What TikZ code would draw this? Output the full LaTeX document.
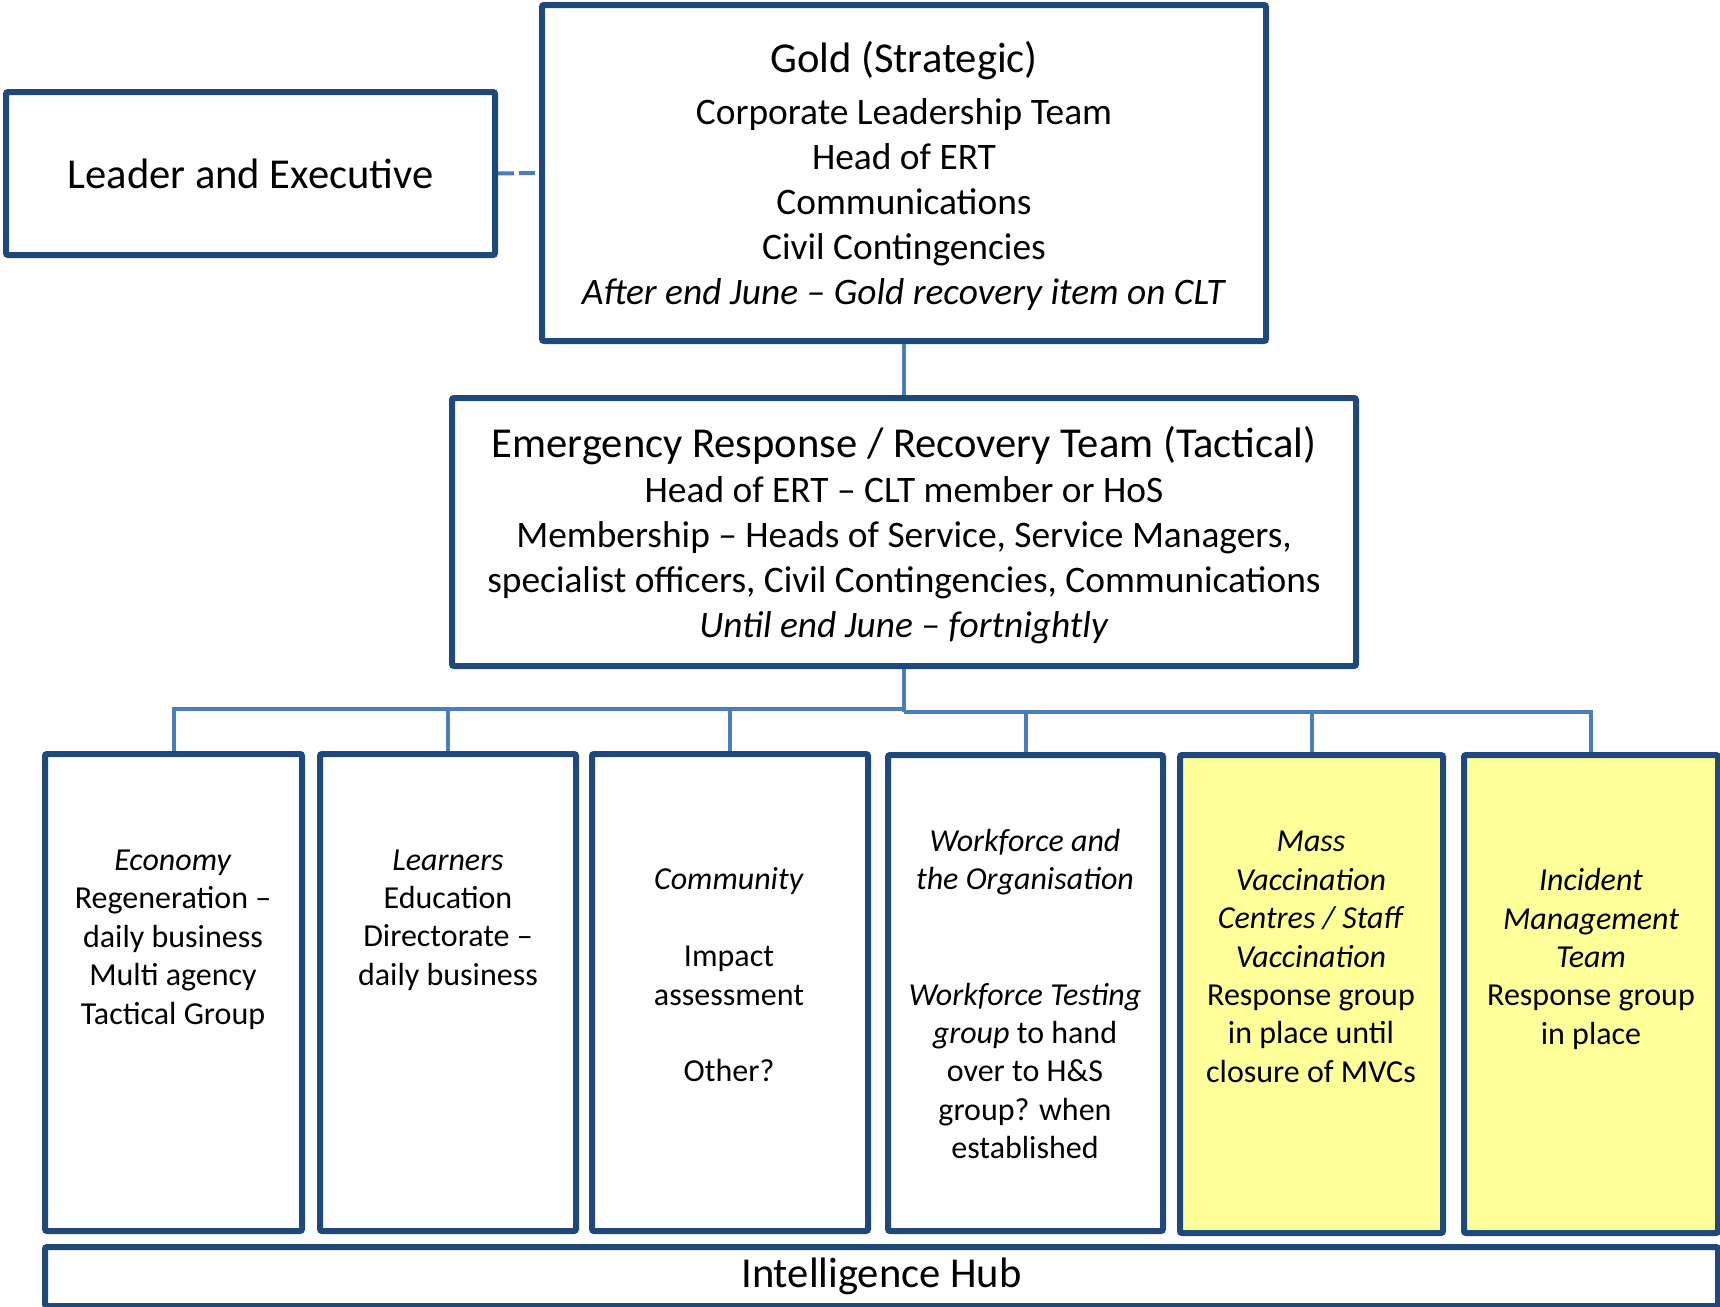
\documentclass[tikz,border=0pt]{standalone}
\usepackage{fontspec}
\setmainfont{Carlito}
\definecolor{boxblue}{HTML}{1F497D}
\definecolor{linkblue}{HTML}{4A7EBB}
\definecolor{paleyellow}{HTML}{FFFF99}
\tikzset{
  frame/.style={draw=boxblue, line width=3pt, rounded corners=1pt, inner sep=0pt, fill=white, align=center},
  yellowframe/.style={frame, fill=paleyellow},
  link/.style={draw=linkblue, line width=2pt},
  btext/.style={align=center, inner sep=0pt, font=\fontsize{16}{19.2}\selectfont},
}
\begin{document}
\begin{tikzpicture}[x=0.5pt,y=-0.5pt]
\useasboundingbox (0,0) rectangle (1720,1307);

% top boxes
\node[frame, minimum width=244.5pt, minimum height=81.5pt, font=\fontsize{21.3}{25}\selectfont] (leader) at (250.5,173.5) {Leader and Executive};

\node[frame, minimum width=362pt, minimum height=168pt] (gold) at (904,173) {};
\node[align=center, inner sep=0pt, font=\fontsize{18.7}{22.5}\selectfont] (goldtext) at (904,176)
  {{\fontsize{21.3}{22.5}\selectfont Gold (Strategic)}\\[3.7pt]
   Corporate Leadership Team\\
   Head of ERT\\
   Communications\\
   Civil Contingencies\\
   \textit{After end June -- Gold recovery item on CLT}};

\node[frame, minimum width=452pt, minimum height=134pt] (ert) at (904,532) {};
\node[align=center, inner sep=0pt, font=\fontsize{18.7}{22.5}\selectfont] (erttext) at (904,535)
  {{\fontsize{21.3}{22.5}\selectfont Emergency Response / Recovery Team (Tactical)}\\[0pt]
   Head of ERT -- CLT member or HoS\\
   Membership -- Heads of Service, Service Managers,\\
   specialist officers, Civil Contingencies, Communications\\
   \textit{Until end June -- fortnightly}};

% bottom boxes
\node[frame, minimum width=128.5pt, minimum height=238.5pt] (b1) at (173.5,992.5) {};
\node[frame, minimum width=128pt, minimum height=238.5pt] (b2) at (448,992.5) {};
\node[frame, minimum width=138pt, minimum height=238.5pt] (b3) at (730,992.5) {};
\node[frame, minimum width=137.5pt, minimum height=238pt] (b4) at (1025.5,993) {};
\node[yellowframe, minimum width=131.5pt, minimum height=239pt] (b5) at (1311.5,994) {};
\node[yellowframe, minimum width=127pt, minimum height=239pt] (b6) at (1591,994) {};

\node[frame, minimum width=836.5pt, minimum height=29.5pt, font=\fontsize{21.3}{25}\selectfont] (hub) at (881.5,1276.5) {Intelligence Hub};

% texts of bottom boxes
\node[btext] (t1) at (173,939.5) {\textit{Economy}\\Regeneration --\\daily business\\Multi agency\\Tactical Group};
\node[btext] (t2) at (448,920) {\textit{Learners}\\Education\\Directorate --\\daily business};
\node[btext] (t3) at (729,975) {\textit{Community}\\[19.2pt]Impact\\assessment\\[19.2pt]Other?};
\node[btext] (t4) at (1025,994) {\textit{Workforce and}\\\textit{the Organisation}\\[38.4pt]\textit{Workforce Testing}\\\textit{group} to hand\\over to H\&S\\group? when\\established};
\node[btext] (t5) at (1311,957) {\textit{Mass}\\\textit{Vaccination}\\\textit{Centres / Staff}\\\textit{Vaccination}\\Response group\\in place until\\closure of MVCs};
\node[btext] (t6) at (1591,959) {\textit{Incident}\\\textit{Management}\\\textit{Team}\\Response group\\in place};

% connectors
\coordinate (busL) at (904,709);
\coordinate (busR) at (904,712);
\draw[link, dash pattern=on 8pt off 2.5pt] (leader.east) -- (gold.west);
\draw[link] (gold.south) -- (ert.north);
\draw[link] (ert.south) -- (busR);
\draw[link] (busL) -- (b1.north |- busL) -- (b1.north);
\draw[link] (b2.north |- busL) -- (b2.north);
\draw[link] (b3.north |- busL) -- (b3.north);
\draw[link] (busR) -- (b6.north |- busR) -- (b6.north);
\draw[link] (b4.north |- busR) -- (b4.north);
\draw[link] (b5.north |- busR) -- (b5.north);
\end{tikzpicture}
\end{document}
